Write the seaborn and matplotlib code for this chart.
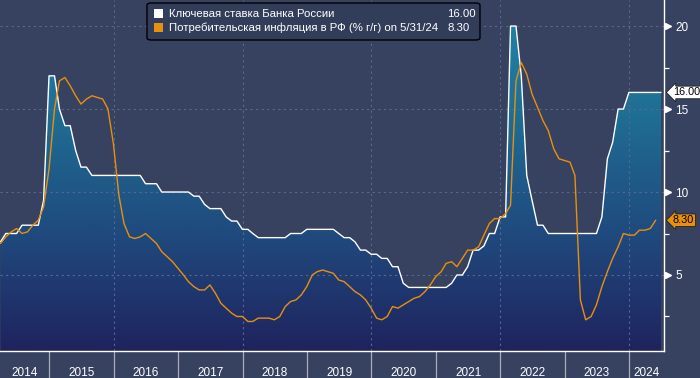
import numpy as np
import pandas as pd
import seaborn as sns
import matplotlib.pyplot as plt
import matplotlib.dates as mdates
from matplotlib.colors import LinearSegmentedColormap
from matplotlib.patches import FancyBboxPatch, Rectangle

# month-end values, Mar 2014 .. Jun 2024
key_rate = [
    7.0, 7.5, 7.5, 7.5, 8.0, 8.0, 8.0, 8.0, 9.5, 17.0,                  # 2014
    17.0, 15.0, 14.0, 14.0, 12.5, 11.5, 11.5, 11.0, 11.0, 11.0, 11.0, 11.0,  # 2015
    11.0, 11.0, 11.0, 11.0, 11.0, 10.5, 10.5, 10.5, 10.0, 10.0, 10.0, 10.0,  # 2016
    10.0, 10.0, 9.75, 9.75, 9.25, 9.0, 9.0, 9.0, 8.5, 8.25, 8.25, 7.75,     # 2017
    7.75, 7.5, 7.25, 7.25, 7.25, 7.25, 7.25, 7.25, 7.5, 7.5, 7.5, 7.75,     # 2018
    7.75, 7.75, 7.75, 7.75, 7.75, 7.5, 7.25, 7.25, 7.0, 6.5, 6.5, 6.25,     # 2019
    6.25, 6.0, 6.0, 5.5, 5.5, 4.5, 4.25, 4.25, 4.25, 4.25, 4.25, 4.25,      # 2020
    4.25, 4.25, 4.5, 5.0, 5.0, 5.5, 6.5, 6.5, 6.75, 7.5, 7.5, 8.5,          # 2021
    8.5, 20.0, 20.0, 17.0, 11.0, 9.5, 8.0, 8.0, 7.5, 7.5, 7.5, 7.5,         # 2022
    7.5, 7.5, 7.5, 7.5, 7.5, 7.5, 8.5, 12.0, 13.0, 15.0, 15.0, 16.0,        # 2023
    16.0, 16.0, 16.0, 16.0, 16.0, 16.0,                                      # 2024
]

# CPI y/y, Mar 2014 .. May 2024
cpi = [
    6.9, 7.3, 7.6, 7.8, 7.5, 7.6, 8.0, 8.3, 9.1, 11.4,
    15.0, 16.7, 16.9, 16.4, 15.8, 15.3, 15.6, 15.8, 15.7, 15.6, 15.0, 12.9,
    9.8, 8.1, 7.3, 7.2, 7.3, 7.5, 7.2, 6.9, 6.4, 6.1, 5.8, 5.4,
    5.0, 4.6, 4.3, 4.1, 4.1, 4.4, 3.9, 3.3, 3.0, 2.7, 2.5, 2.5,
    2.2, 2.2, 2.4, 2.4, 2.4, 2.3, 2.5, 3.1, 3.4, 3.5, 3.8, 4.3,
    5.0, 5.2, 5.3, 5.2, 5.1, 4.7, 4.6, 4.3, 4.0, 3.8, 3.5, 3.0,
    2.4, 2.3, 2.5, 3.1, 3.0, 3.2, 3.4, 3.6, 3.7, 4.0, 4.4, 4.9,
    5.2, 5.7, 5.8, 5.5, 6.0, 6.5, 6.5, 6.7, 7.4, 8.1, 8.4, 8.4,
    8.7, 9.2, 16.7, 17.8, 17.1, 15.9, 15.1, 14.3, 13.7, 12.6, 12.0, 11.9,
    11.8, 11.0, 3.5, 2.3, 2.5, 3.2, 4.3, 5.2, 6.0, 6.7, 7.5, 7.4,
    7.4, 7.7, 7.7, 7.8, 8.3,
]

years = list(range(2014, 2025))
key_label = "Ключевая ставка Банка России"
cpi_label = "Потребительская инфляция в РФ (% г/г) on 5/31/24"
key_last = "16.00"
cpi_last = "8.30"

key_df = pd.DataFrame({"date": pd.date_range("2014-03-31", periods=len(key_rate), freq="ME"),
                       "rate": key_rate})
cpi_df = pd.DataFrame({"date": pd.date_range("2014-03-31", periods=len(cpi), freq="ME"),
                       "cpi": cpi})

bg = "#36425f"
orange = "#e8900e"

sns.set_style("dark")
plt.rcParams["font.family"] = ["Liberation Sans", "DejaVu Sans"]

fig = plt.figure(figsize=(7, 3.78), dpi=100)
fig.patch.set_facecolor(bg)
ax = fig.add_axes([0, 1 - 351 / 378, 664 / 700, 351 / 378])
ax.set_facecolor(bg)

x0 = mdates.date2num(pd.Timestamp("2014-03-28"))
x1 = mdates.date2num(pd.Timestamp("2024-07-17"))
y0, y1 = 0.42, 21.57

# gradient area under key rate
cmap = LinearSegmentedColormap.from_list("g", ["#20235e", "#1f4a7e", "#1f6d93", "#2286a8"])
grad = np.linspace(0, 1, 256).reshape(-1, 1)
im = ax.imshow(grad, extent=[x0, x1, y0, y1], origin="lower", aspect="auto",
               cmap=cmap, zorder=1)
poly = ax.fill_between(key_df["date"], key_df["rate"], y0, facecolor="none",
                       edgecolor="none", zorder=1)
im.set_clip_path(poly.get_paths()[0], transform=ax.transData)

sns.lineplot(data=key_df, x="date", y="rate", color="white", lw=1.0, ax=ax, zorder=3)
sns.lineplot(data=cpi_df, x="date", y="cpi", color=orange, lw=1.0, ax=ax, zorder=4)

ax.set_xlim(x0, x1)
ax.set_ylim(y0, y1)
ax.set_xlabel("")
ax.set_ylabel("")

# grid
for yv in [5, 10, 15, 20]:
    ax.axhline(yv, color="#58688f", lw=0.8, ls=(0, (2, 3)), zorder=2)
for yr in [2016, 2018, 2020, 2022, 2024]:
    ax.axvline(pd.Timestamp(f"{yr}-01-01"), color="#58688f", lw=0.8, ls=(0, (2, 3)), zorder=2)

# spines
for s in ["top", "left"]:
    ax.spines[s].set_visible(False)
for s in ["right", "bottom"]:
    ax.spines[s].set_visible(True)
    ax.spines[s].set_color("white")
    ax.spines[s].set_linewidth(1.0)

# x axis: separators at year starts, labels centred in each year
bounds = [mdates.date2num(pd.Timestamp(f"{y}-01-01")) for y in years[1:]]
ax.set_xticks(bounds)
ax.set_xticklabels([])
ax.tick_params(axis="x", which="major", direction="out", length=19.5, width=0.9,
               color="#a9adb9", bottom=True)
centers = []
for y in years:
    a = max(mdates.date2num(pd.Timestamp(f"{y}-01-01")), x0)
    b = min(mdates.date2num(pd.Timestamp(f"{y + 1}-01-01")), x1)
    centers.append((a + b) / 2)
ax.set_xticks(centers, minor=True)
ax.set_xticklabels([str(y) for y in years], minor=True)
ax.tick_params(axis="x", which="minor", length=0, pad=11.5, labelsize=8.5, labelcolor="white")

# y axis on right
ax.yaxis.tick_right()
ax.set_yticks([5, 10, 15, 20])
ax.set_yticklabels(["5", "10", "15", "20"])
ax.set_yticks([2.5, 7.5, 12.5, 17.5], minor=True)
ax.tick_params(axis="y", which="major", length=0, pad=8, labelsize=8.5, labelcolor="white")
ax.tick_params(axis="y", which="minor", direction="out", length=3.5, width=0.9, color="white")
ax.plot([1.006] * 4, [5, 10, 15, 20], transform=ax.get_yaxis_transform(), ls="none",
        marker=">", ms=5, color="white", clip_on=False, zorder=5)

# last value tags
ax.text(1.0135, 16, key_last, transform=ax.get_yaxis_transform(), ha="left", va="center",
        fontsize=7.8, color="black", zorder=6,
        bbox=dict(boxstyle="larrow,pad=0.12", fc="white", ec="#222222", lw=0.6))
ax.text(1.0135, 8.3, cpi_last, transform=ax.get_yaxis_transform(), ha="left", va="center",
        fontsize=7.8, color="black", zorder=6,
        bbox=dict(boxstyle="larrow,pad=0.12", fc=orange, ec="#222222", lw=0.6))

# legend box
W, H = 700, 378
fig.add_artist(FancyBboxPatch((147 / W, 1 - 40 / H), 333 / W, 37 / H,
                              boxstyle="round,pad=0,rounding_size=0.006",
                              transform=fig.transFigure, fc="#323d59", ec="black", lw=1.0))
fig.add_artist(Rectangle((154 / W, 1 - 18 / H), 9 / W, 9 / H, transform=fig.transFigure,
                         fc="white", ec="none"))
fig.add_artist(Rectangle((154 / W, 1 - 32 / H), 9 / W, 9 / H, transform=fig.transFigure,
                         fc=orange, ec="none"))
fig.text(169 / W, 1 - 14 / H, key_label, color="white", fontsize=8.2, va="center")
fig.text(169 / W, 1 - 28 / H, cpi_label, color="white", fontsize=8.2, va="center")
fig.text(447 / W, 1 - 14 / H, key_last, color="white", fontsize=8.2, va="center")
fig.text(447 / W, 1 - 28 / H, cpi_last, color="white", fontsize=8.2, va="center")

fig.savefig("out.png", dpi=100, facecolor=bg)
